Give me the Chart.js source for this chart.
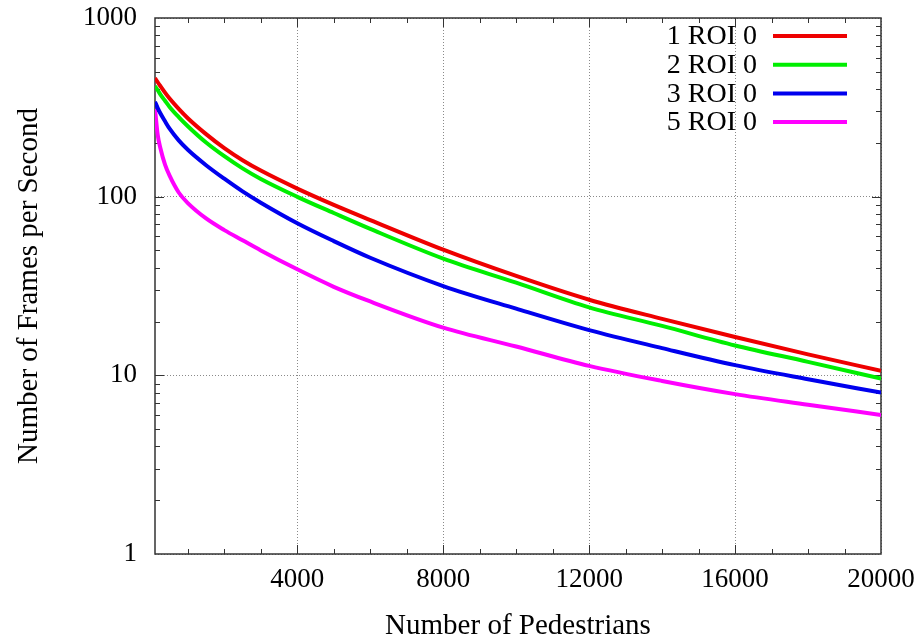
<!DOCTYPE html>
<html>
<head>
<meta charset="utf-8">
<script src="https://cdn.jsdelivr.net/npm/chart.js@4.4.1/dist/chart.umd.min.js"></script>
<style>
  html, body { margin: 0; padding: 0; background: #fff; }
  canvas { display: block; }
</style>
</head>
<body>
<canvas id="fps" width="923" height="644"></canvas>
<script>
// pedestrians simulated vs. frame rate, one series per ROI count
const pedestrians = [100, 175, 250, 375, 500, 750, 1000, 1500, 2000, 2500, 3000, 4000, 5000, 6000, 8000, 10000, 12000, 14000, 16000, 18000, 20000];
const fps1Roi = [461, 437, 415, 382, 354, 310, 275, 224, 187, 160, 140, 111, 90, 74, 50.5, 36, 26.5, 20.7, 16.4, 13.1, 10.6];
const fps2Roi = [415, 394, 373, 344, 318, 279, 248, 201, 168.5, 144, 125.6, 99.8, 81, 66, 45, 33, 24, 18.9, 14.7, 11.9, 9.6];
const fps3Roi = [340, 313, 292, 264, 240, 206.5, 183, 150, 126, 107, 92.5, 71, 56.4, 45.5, 31.6, 23.6, 17.9, 14.2, 11.4, 9.5, 8.0];
const fps5Roi = [310, 221, 186, 151, 131, 105.5, 92, 75.5, 65, 57, 50, 39.2, 31.3, 25.9, 18.5, 14.5, 11.3, 9.3, 7.85, 6.85, 6.0];

const seriesLabels = ['1 ROI 0', '2 ROI 0', '3 ROI 0', '5 ROI 0'];
const seriesColors = ['#ee0000', '#00ee00', '#0000ee', '#ff00ff'];

const xTicks = [4000, 8000, 12000, 16000, 20000];
const xMinorStep = 1000;
const yTicks = [1, 10, 100, 1000];

const SERIF = '"Liberation Serif", "Times New Roman", serif';

const points = (ys) => pedestrians.map((x, i) => ({ x: x, y: ys[i] }));

// gnuplot-like frame: box on all four sides with inward major/minor ticks
const framePlugin = {
  id: 'frame',
  beforeDatasetsDraw(chart) {
    const { ctx, chartArea: a, scales: { x, y } } = chart;
    ctx.save();
    ctx.strokeStyle = '#333';
    ctx.lineWidth = 1;
    ctx.beginPath();
    for (let v = xMinorStep; v < x.max; v += xMinorStep) {
      const px = Math.round(x.getPixelForValue(v)) + 0.5;
      const len = xTicks.includes(v) ? 9 : 5;
      ctx.moveTo(px, a.bottom); ctx.lineTo(px, a.bottom - len);
      ctx.moveTo(px, a.top); ctx.lineTo(px, a.top + len);
    }
    for (let d = y.min; d < y.max; d *= 10) {
      for (let m = 1; m < 10; m++) {
        const v = d * m;
        if (v <= y.min) continue;
        const py = Math.round(y.getPixelForValue(v)) + 0.5;
        const len = m === 1 ? 9 : 5;
        ctx.moveTo(a.left, py); ctx.lineTo(a.left + len, py);
        ctx.moveTo(a.right, py); ctx.lineTo(a.right - len, py);
      }
    }
    ctx.stroke();
    ctx.lineWidth = 1.5;
    ctx.strokeRect(a.left, a.top, a.right - a.left, a.bottom - a.top);
    ctx.restore();
  }
};

// key in the top right corner: label first, line sample after it
const keyPlugin = {
  id: 'key',
  afterDraw(chart) {
    const { ctx } = chart;
    ctx.save();
    ctx.font = '28px ' + SERIF;
    ctx.textAlign = 'right';
    ctx.textBaseline = 'middle';
    chart.data.datasets.forEach((ds, i) => {
      const rowY = 36 + i * 28.7;
      ctx.fillStyle = '#000';
      ctx.fillText(ds.label, 757, rowY + 1);
      ctx.strokeStyle = ds.borderColor;
      ctx.lineWidth = 4;
      ctx.beginPath();
      ctx.moveTo(773, rowY);
      ctx.lineTo(847, rowY);
      ctx.stroke();
    });
    ctx.restore();
  }
};

Chart.defaults.font.family = SERIF;
Chart.defaults.color = '#000';

// tick marks outside the frame are kept invisible; their length only spaces the labels
const gridStyle = (gap) => ({
  drawTicks: true,
  tickLength: gap,
  tickColor: 'rgba(0,0,0,0)',
  color: '#8a8a8a',
  lineWidth: 1
});

new Chart(document.getElementById('fps'), {
  type: 'line',
  data: {
    datasets: [fps1Roi, fps2Roi, fps3Roi, fps5Roi].map((ys, i) => ({
      label: seriesLabels[i],
      data: points(ys),
      borderColor: seriesColors[i],
      borderWidth: 4,
      pointRadius: 0,
      cubicInterpolationMode: 'monotone',
      fill: false
    }))
  },
  options: {
    responsive: false,
    animation: false,
    devicePixelRatio: 1,
    layout: { padding: { top: 18, right: 42, left: 0, bottom: 0 } },
    plugins: {
      legend: { display: false },
      tooltip: { enabled: false }
    },
    scales: {
      x: {
        type: 'linear',
        min: 100,
        max: 20000,
        afterBuildTicks: (axis) => { axis.ticks = xTicks.map(v => ({ value: v })); },
        afterFit: (axis) => { axis.height = 90; },
        ticks: {
          padding: 0,
          font: { size: 27 },
          maxRotation: 0,
          callback: (v) => String(v)
        },
        grid: gridStyle(10),
        border: { display: false, dash: [1, 2] },
        title: {
          display: true,
          text: 'Number of Pedestrians',
          font: { size: 29 },
          padding: { top: 0, bottom: 0 }
        }
      },
      y: {
        type: 'logarithmic',
        min: 1,
        max: 1000,
        afterBuildTicks: (axis) => { axis.ticks = yTicks.map(v => ({ value: v })); },
        afterFit: (axis) => { axis.width = 155; },
        ticks: {
          padding: 0,
          font: { size: 27 },
          callback: (v) => String(v)
        },
        grid: gridStyle(18),
        border: { display: false, dash: [1, 2] },
        title: {
          display: true,
          text: 'Number of Frames per Second',
          font: { size: 29 },
          padding: { top: 12, bottom: 0 }
        }
      }
    }
  },
  plugins: [framePlugin, keyPlugin]
});
</script>
</body>
</html>
